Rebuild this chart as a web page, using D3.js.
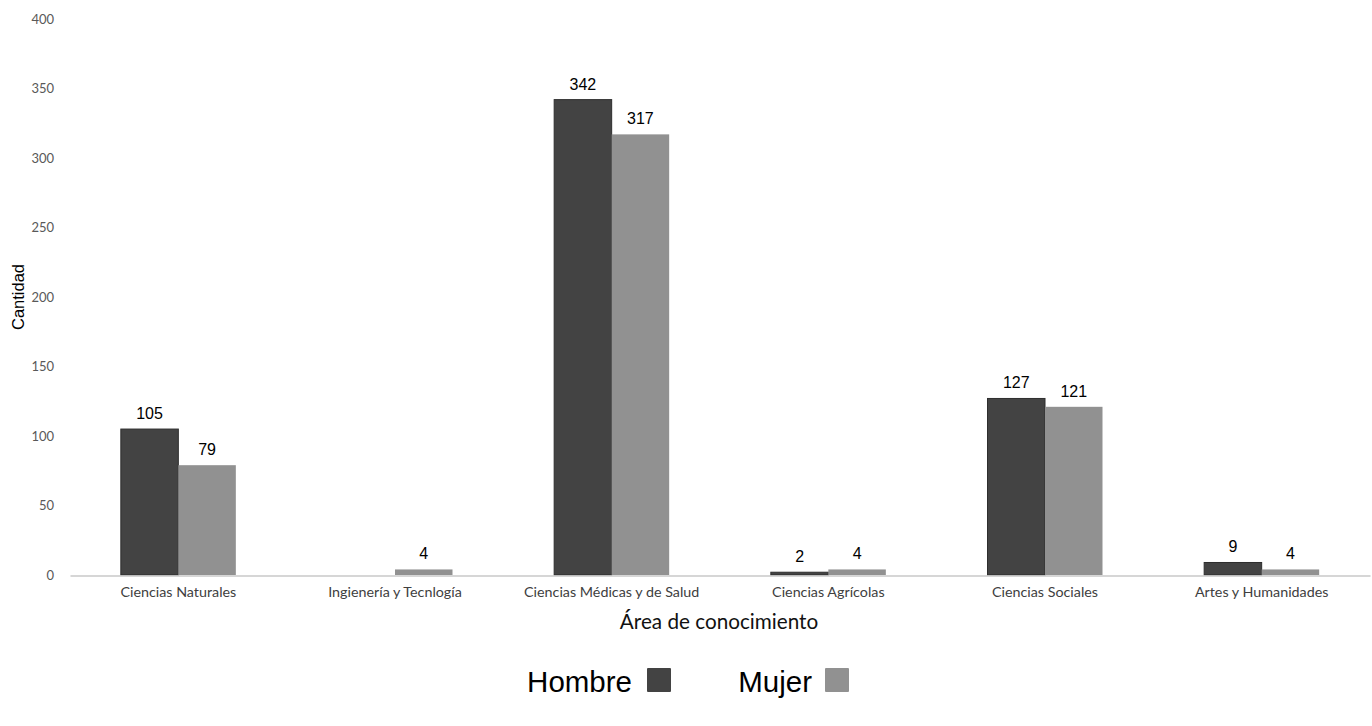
<!DOCTYPE html>
<html><head><meta charset="utf-8">
<script src="https://cdn.jsdelivr.net/npm/d3@7"></script>
<style>body{margin:0;background:#fff}</style>
</head><body>
<svg id="c" width="1372" height="726"></svg>
<script>
const categories = ["Ciencias Naturales","Ingienería y Tecnlogía","Ciencias Médicas y de Salud","Ciencias Agrícolas","Ciencias Sociales","Artes y Humanidades"];
const series = ["Hombre","Mujer"];
const hombre = [105, 0, 342, 2, 127, 9];
const mujer = [79, 4, 317, 4, 121, 4];
const yTicks = [0,50,100,150,200,250,300,350,400];
const colors = ["#434343","#919191"];

const svg = d3.select("#c");
const x0 = 70, x1 = 1370, yTop = 19, yBot = 575;
const x = d3.scaleBand().domain(categories).range([x0, x1]);
const xs = d3.scaleBand().domain(series).range([0, 115]);
const y = d3.scaleLinear().domain([0,400]).range([yBot, yTop]);
const vals = [hombre, mujer];

// y tick labels
const yAxis = d3.axisLeft(y).tickValues(yTicks).tickSize(0).tickPadding(0);
const ga = svg.append("g").attr("transform","translate(54,0)").call(yAxis);
ga.select(".domain").remove();
ga.selectAll("text").attr("font-family","Lato, 'Open Sans', sans-serif").attr("font-size",13).attr("fill","#595959");

// bars
series.forEach((s, si) => {
  svg.append("g").selectAll("rect").data(categories).join("rect")
    .attr("x", c => x(c) + x.bandwidth()/2 - 57.5 + xs(s))
    .attr("y", (c,i) => y(vals[si][i]))
    .attr("width", xs.bandwidth())
    .attr("height", (c,i) => yBot - y(vals[si][i]))
    .attr("fill", colors[si])
    .attr("stroke", si===0 ? "#2e2e2e" : "none")
    .attr("stroke-width", 1);
  svg.append("g").selectAll("text").data(categories).join("text")
    .filter((c,i) => vals[si][i] > 0)
    .attr("x", c => x(c) + x.bandwidth()/2 - 57.5 + xs(s) + xs.bandwidth()/2)
    .attr("y", c => y(vals[si][categories.indexOf(c)]) - 10)
    .attr("text-anchor","middle")
    .attr("font-family","'Liberation Sans', Arial, sans-serif")
    .attr("font-size",16).attr("fill","#000")
    .text(c => vals[si][categories.indexOf(c)]);
});

// x axis
const xAxis = d3.axisBottom(x).tickSize(0).tickPadding(11);
const gx = svg.append("g").attr("transform",`translate(0,${yBot+0.5})`).call(xAxis);
gx.select(".domain").attr("stroke","#c8c8c8").attr("stroke-width",1.5);
gx.selectAll("text").attr("font-family","Lato, 'Open Sans', sans-serif").attr("font-size",14.3).attr("fill","#404040");

// axis titles
svg.append("text").attr("x", 719).attr("y", 629).attr("text-anchor","middle")
  .attr("font-family","Lato, 'Open Sans', sans-serif").attr("font-size",20.7).attr("fill","#111")
  .text("Área de conocimiento");
svg.append("text").attr("transform","translate(24,297) rotate(-90)").attr("text-anchor","middle")
  .attr("font-family","'Liberation Sans', Arial, sans-serif").attr("font-size",16.5).attr("fill","#000")
  .text("Cantidad");

// legend
const leg = [{t:"Hombre", tx:632, sx:647},{t:"Mujer", tx:812, sx:825}];
leg.forEach((l,i) => {
  svg.append("text").attr("x", l.tx).attr("y", 692).attr("text-anchor","end")
    .attr("font-family","'Liberation Sans', Arial, sans-serif").attr("font-size",29.5).attr("fill","#000")
    .text(series[i]);
  svg.append("rect").attr("x", l.sx).attr("y", 668).attr("width",24).attr("height",24)
    .attr("fill", colors[i]).attr("rx",1);
});
</script>
</body></html>
